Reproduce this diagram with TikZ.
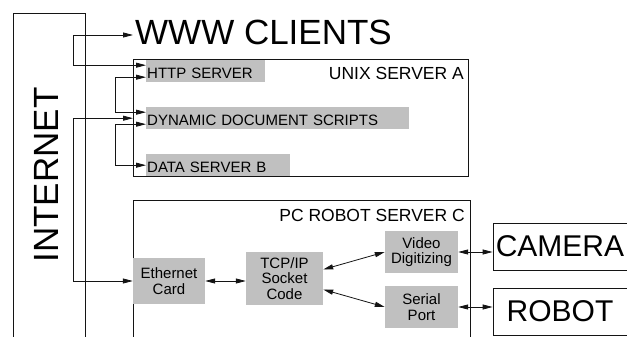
\documentclass[tikz,border=0pt]{standalone}
\usepackage{fontspec}
\setmainfont{Liberation Sans}
\usepackage{tikz}
\usetikzlibrary{arrows.meta, positioning, calc}
\definecolor{boxgray}{RGB}{192, 192, 192}
\definecolor{linegray}{RGB}{20, 20, 20}

\tikzset{
  frame/.style={draw=linegray, line width=0.8pt},
  gbox/.style={fill=boxgray, inner sep=1pt, font=\fontsize{15}{15.5}\selectfont},
  lbox/.style={gbox, anchor=north west, minimum height=22pt, text height=14.5pt, text depth=0pt, align=left},
  cbox/.style={gbox, align=center},
  title/.style={font=\fontsize{17.5}{19}\selectfont, inner sep=0pt},
  bigtext/.style={font=\fontsize{35}{38}\selectfont},
  devbox/.style={frame, minimum width=134pt, minimum height=47pt, inner sep=0pt, font=\fontsize{30}{32}\selectfont},
  arr/.style={draw=linegray, line width=0.8pt, {Triangle[length=10pt,width=5pt]}-{Triangle[length=10pt,width=5pt]}},
}

\begin{document}
\begin{tikzpicture}[x=1pt, y=-1pt]
  \clip (0,0) rectangle (627,337);

  % Internet column
  \draw[frame] (13,13) rectangle (85,350);
  \node[bigtext, rotate=90] (inet) at (46,175) {INTERNET};

  % WWW clients
  \node[bigtext, anchor=west, inner sep=2pt] (www) at (133,32) {WWW CLIENTS};

  % Unix server A
  \node[frame, anchor=north west, minimum width=335pt, minimum height=117pt] (unix) at (133,59) {};
  \node[title, anchor=east] (unixtitle) at (464,73) {UNIX SERVER A};
  \node[lbox, text width=117pt] (http) at (146,60) {HTTP SERVER};
  \node[lbox, text width=261pt] (dyn) at (146,107) {DYNAMIC DOCUMENT SCRIPTS};
  \node[lbox, text width=142pt] (data) at (146,154) {DATA SERVER B};

  % PC robot server C
  \node[frame, anchor=north west, minimum width=337pt, minimum height=150pt] (pc) at (133,200) {};
  \node[title, anchor=east] (pctitle) at (465,215) {PC ROBOT SERVER C};
  \node[cbox, minimum width=72pt, minimum height=46pt] (eth) at (169,281) {Ethernet\\Card};
  \node[cbox, minimum width=77pt, minimum height=53pt] (tcp) at (284.5,278.5) {TCP/IP\\Socket\\Code};
  \node[cbox, minimum width=73pt, minimum height=42pt] (video) at (421.5,252) {Video\\Digitizing};
  \node[cbox, minimum width=73pt, minimum height=42pt] (serial) at (421.5,307) {Serial\\Port};

  % Devices
  \node[devbox] (camera) at (560,246.5) {CAMERA};
  \node[devbox] (robot) at (560,311.5) {ROBOT};

  % Junctions
  \coordinate (wj) at (73,35);
  \coordinate (nj) at (73,0 |- eth.west);

  % Connectors
  \draw[arr] ([yshift=6pt]http.west) -| (wj) -- (www.west |- wj);
  \draw[arr] ([yshift=-6pt]http.west) -- ++(-31,0) |- ([yshift=6pt]dyn.west);
  \draw[arr] ([yshift=-6pt]dyn.west) -- ++(-31,0) |- (data.west);
  \draw[arr] (unix.west |- dyn.west) -| (nj) -- (eth.west);
  \draw[arr] (eth.east) -- (tcp.west |- eth.east);
  \draw[arr] ([yshift=9pt]tcp.east) -- (video.west);
  \draw[arr] ([yshift=-11pt]tcp.east) -- (serial.west);
  \draw[arr] (video.east) -- (camera.west |- video.east);
  \draw[arr] (serial.east) -- (robot.west |- serial.east);
\end{tikzpicture}
\end{document}
